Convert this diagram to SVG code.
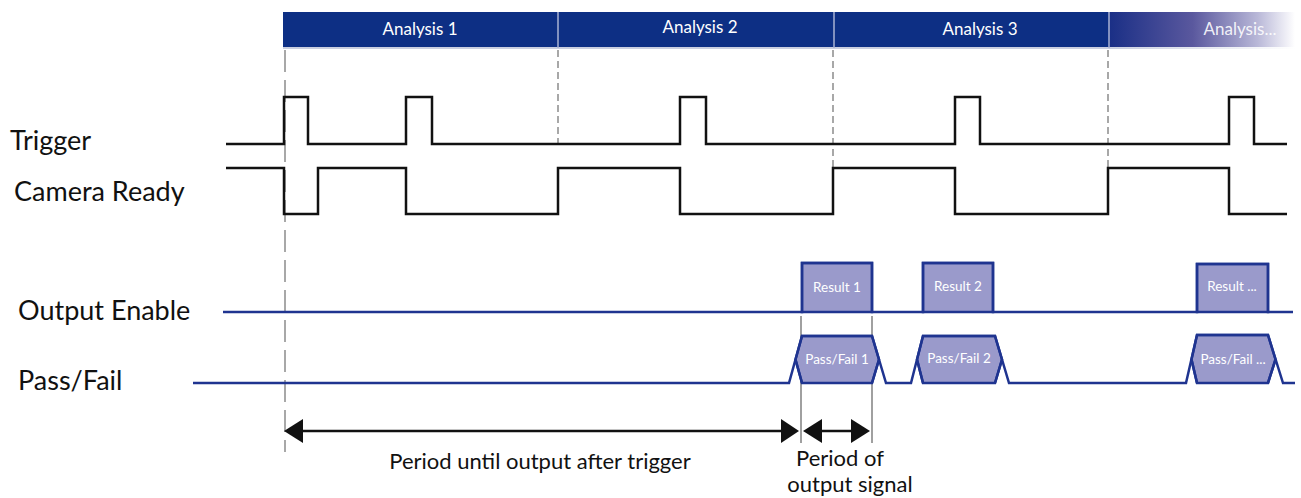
<svg xmlns="http://www.w3.org/2000/svg" width="1301" height="498" viewBox="0 0 1301 498">
<defs>
<linearGradient id="fade" x1="0" y1="0" x2="1" y2="0">
<stop offset="0" stop-color="#1a2f86"/>
<stop offset="0.45" stop-color="#5a589e"/>
<stop offset="0.8" stop-color="#b9b8d8"/>
<stop offset="1" stop-color="#ffffff"/>
</linearGradient>
<linearGradient id="fadeLine" x1="0" y1="0" x2="1" y2="0">
<stop offset="0" stop-color="#b8bfd6"/>
<stop offset="1" stop-color="#ffffff"/>
</linearGradient>
<style>
.lbl{font-family:Lato,"Open Sans",sans-serif;font-size:27px;fill:#111}
.hdr{font-family:Lato,"Open Sans",sans-serif;font-size:17px;fill:#ffffff;text-anchor:middle}
.box{font-family:Lato,"Open Sans",sans-serif;font-size:13.5px;fill:#ffffff;text-anchor:middle}
.cap{font-family:Lato,"Open Sans",sans-serif;font-size:22px;fill:#111;text-anchor:middle}
.sig{fill:none;stroke:#111;stroke-width:2.5}
.bus{fill:none;stroke:#1f3490;stroke-width:2.5;stroke-linejoin:miter}
.busfill{fill:#9a9acb;stroke:#1f3490;stroke-width:2.5}
.dash1{stroke:#a8a8a8;stroke-width:2;stroke-dasharray:22 8}
.dash2{stroke:#a8a8a8;stroke-width:2;stroke-dasharray:7 4}
.guide{stroke:#a0a0a0;stroke-width:2}
.div{stroke:#a9b3d3;stroke-width:1.5}
.arr{stroke:#111;stroke-width:2.5}
.head{fill:#111}
</style>
</defs>

<g id="header">
<rect x="283" y="12" width="826" height="35" fill="#0d2f84"/>
<rect x="1109" y="12" width="186" height="35" fill="url(#fade)"/>
<line x1="283" y1="48" x2="1109" y2="48" stroke="#b8bfd6" stroke-width="1.5"/>
<rect x="1109" y="47.3" width="186" height="1.5" fill="url(#fadeLine)"/>
<line class="div" x1="558" y1="12" x2="558" y2="48"/>
<line class="div" x1="834" y1="12" x2="834" y2="48"/>
<line class="div" x1="1109" y1="12" x2="1109" y2="48"/>
<text class="hdr" x="420" y="35">Analysis 1</text>
<text class="hdr" x="700" y="33">Analysis 2</text>
<text class="hdr" x="980" y="35">Analysis 3</text>
<text class="hdr" x="1240" y="35" fill-opacity="0.9">Analysis...</text>
</g>

<g id="guides">
<line class="dash1" x1="285" y1="50" x2="285" y2="452"/>
<line class="dash2" x1="558" y1="50" x2="558" y2="143"/>
<line class="dash2" x1="833" y1="50" x2="833" y2="167"/>
<line class="dash2" x1="1108" y1="50" x2="1108" y2="167"/>
<line class="guide" x1="801" y1="316" x2="801" y2="443"/>
<line class="guide" x1="872" y1="316" x2="872" y2="443"/>
</g>

<g id="labels">
<text class="lbl" x="10" y="150">Trigger</text>
<text class="lbl" x="14" y="201">Camera Ready</text>
<text class="lbl" x="18" y="320">Output Enable</text>
<text class="lbl" x="18" y="390">Pass/Fail</text>
</g>

<g id="trigger">
<path class="sig" d="M226,144 H284 V97 H308 V144 H406 V97 H432 V144 H680 V97 H706 V144 H955 V97 H980 V144 H1229 V97 H1254 V144 H1287"/>
</g>

<g id="camera-ready">
<path class="sig" d="M226,168 H284 V214 H318 V168 H406 V214 H558 V168 H680 V214 H833 V168 H955 V214 H1108 V168 H1229 V214 H1287"/>
</g>

<g id="output-enable">
<rect class="busfill" x="802" y="263" width="70" height="49"/>
<rect class="busfill" x="923" y="263" width="70" height="49"/>
<rect class="busfill" x="1197" y="264" width="71" height="48"/>
<path class="bus" d="M223,312 H802 V263 H872 V312 H923 V263 H993 V312 H1197 V264 H1268 V312 H1293"/>
<text class="box" x="837" y="292">Result 1</text>
<text class="box" x="958" y="291">Result 2</text>
<text class="box" x="1232" y="291">Result ...</text>
</g>

<g id="pass-fail">
<polygon class="busfill" points="795.5,359.5 802,336 872,336 879,359.5 872,383 802,383"/>
<polygon class="busfill" points="917,359.5 923,336 995,336 1002,359.5 995,383 923,383"/>
<polygon class="busfill" points="1191.5,359.5 1197,335 1268,335 1275.5,359.5 1268,383 1197,383"/>
<path class="bus" d="M193,383 H789 L802,336 H872 L886,383 H911 L923,336 H995 L1009,383 H1186 L1197,335 H1268 L1283,383 H1295"/>
<path class="bus" d="M795.5,359.5 L802,383 M879,359.5 L872,383 M917,359.5 L923,383 M1002,359.5 L995,383 M1191.5,359.5 L1197,383 M1275.5,359.5 L1268,383"/>
<text class="box" x="837" y="364">Pass/Fail 1</text>
<text class="box" x="959" y="363">Pass/Fail 2</text>
<text class="box" x="1233" y="364">Pass/Fail ...</text>
</g>

<g id="connectors">
<line class="arr" x1="300" y1="431" x2="786" y2="431"/>
<polygon class="head" points="284,431 303,419 303,443"/>
<polygon class="head" points="799,431 781,419 781,443"/>
<line class="arr" x1="818" y1="431" x2="856" y2="431"/>
<polygon class="head" points="803,431 822,419 822,443"/>
<polygon class="head" points="870,431 851,419 851,443"/>
</g>

<g id="captions">
<text class="cap" x="540" y="469">Period until output after trigger</text>
<text class="cap" x="840" y="466">Period of</text>
<text class="cap" x="850" y="492">output signal</text>
</g>
</svg>
